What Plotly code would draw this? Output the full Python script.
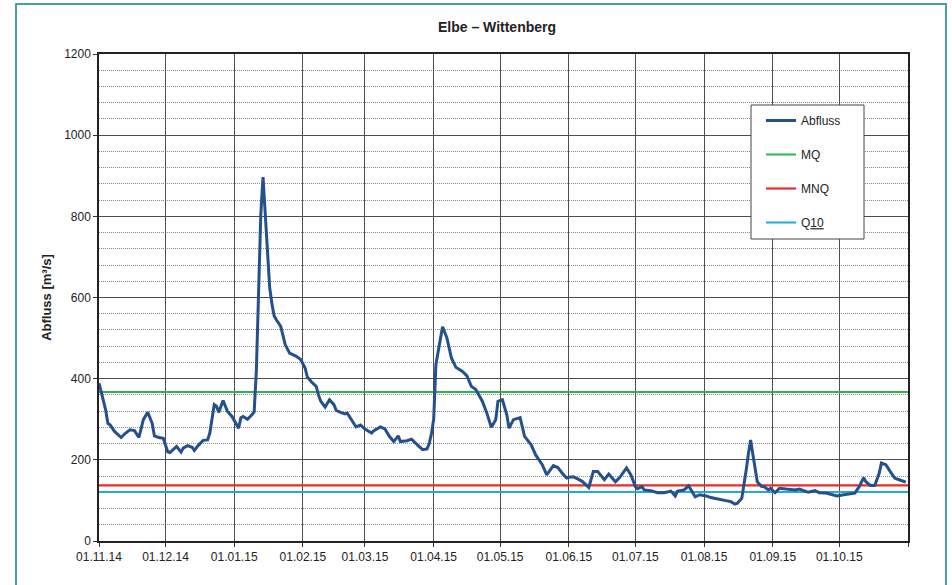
import pandas as pd
import plotly.graph_objects as go

START = "2014-11-01"
END = "2015-11-01"

# day offset from START, discharge in m³/s
days = [0, 1, 3, 4, 5, 7, 10, 12, 14, 16, 18, 20, 22, 24, 25, 27, 29, 31, 32, 35,
        37, 38, 40, 42, 43, 45, 47, 49, 50, 52, 53, 54, 56, 58, 60, 63, 64, 65, 67, 69,
        70, 71, 72, 73, 74, 75, 76, 77, 78, 79, 80, 82, 84, 86, 89, 91, 93, 94, 96, 98,
        99, 100, 102, 104, 106, 107, 109, 111, 112, 114, 116, 118, 120, 123, 124, 127, 129, 131, 133, 135,
        136, 139, 141, 144, 146, 148, 149, 150, 151, 152, 154, 155, 157, 159, 161, 164, 166, 168, 170, 173,
        175, 177, 179, 180, 182, 184, 185, 187, 190, 192, 195, 197, 200, 202, 205, 207, 209, 211, 212, 214,
        216, 218, 221, 223, 225, 228, 230, 233, 235, 238, 240, 242, 243, 245, 246, 249, 252, 255, 258, 260,
        261, 264, 266, 267, 269, 271, 274, 276, 280, 283, 285, 287, 288, 290, 291, 292, 293, 294, 295, 296,
        297, 299, 300, 302, 303, 305, 307, 310, 314, 316, 318, 320, 323, 325, 328, 331, 333, 336, 339, 341,
        343, 345, 346, 348, 350, 352, 353, 355, 357, 359, 361, 364]
abfluss = [389, 365, 323, 290, 286, 270, 255, 266, 274, 272, 255, 299, 317, 290, 259, 255, 253, 220, 218, 233,
           219, 229, 235, 231, 223, 237, 248, 249, 266, 336, 332, 317, 346, 319, 307, 278, 304, 307, 300, 311,
           318, 420, 610, 805, 897, 810, 700, 625, 585, 555, 545, 529, 484, 463, 455, 447, 426, 404, 391, 381,
           360, 345, 330, 348, 336, 322, 317, 313, 315, 297, 281, 286, 276, 266, 272, 281, 276, 258, 245, 259,
           245, 247, 251, 235, 225, 227, 240, 265, 300, 435, 496, 528, 500, 451, 428, 418, 407, 381, 373, 344,
           315, 280, 299, 344, 348, 311, 278, 299, 304, 258, 237, 212, 188, 163, 186, 181, 167, 155, 157, 158,
           153, 147, 132, 171, 171, 151, 165, 146, 157, 180, 163, 134, 129, 134, 126, 124, 119, 119, 123, 111,
           123, 126, 136, 128, 109, 114, 111, 107, 103, 99, 97, 91, 93, 105, 135, 175, 215, 249, 214, 175,
           146, 134, 134, 126, 130, 119, 130, 128, 126, 128, 124, 120, 124, 119, 118, 114, 111, 114, 116, 118,
           134, 156, 146, 137, 137, 167, 192, 188, 171, 155, 151, 145]

MQ = 367
MNQ = 137
Q10 = 121

tick_dates = ["2014-11-01", "2014-12-01", "2015-01-01", "2015-02-01", "2015-03-01", "2015-04-01",
              "2015-05-01", "2015-06-01", "2015-07-01", "2015-08-01", "2015-09-01", "2015-10-01",
              "2015-11-01"]
tick_labels = ["01.11.14", "01.12.14", "01.01.15", "01.02.15", "01.03.15", "01.04.15",
               "01.05.15", "01.06.15", "01.07.15", "01.08.15", "01.09.15", "01.10.15", ""]

dates = pd.Timestamp(START) + pd.to_timedelta(days, unit="D")

FONT = "Liberation Sans, Arial, sans-serif"
fig = go.Figure()
fig.add_trace(go.Scatter(x=[START, END], y=[MQ, MQ], mode="lines", name="MQ",
                         line=dict(color="#2fb34f", width=2), legendgroup="b", legendrank=2))
fig.add_trace(go.Scatter(x=[START, END], y=[MNQ, MNQ], mode="lines", name="MNQ",
                         line=dict(color="#ee2a2a", width=2.2), legendgroup="c", legendrank=3))
fig.add_trace(go.Scatter(x=[START, END], y=[Q10, Q10], mode="lines", name="Q<u>10</u>",
                         line=dict(color="#23a9e1", width=2), legendgroup="d", legendrank=4))
fig.add_trace(go.Scatter(x=dates, y=abfluss, mode="lines", name="Abfluss",
                         line=dict(color="#24508c", width=3), legendgroup="a", legendrank=1))

L, R, T, B = 99, 44, 54, 44
W, H = 952, 585
pw, ph = W - L - R, H - T - B

def px(xp):
    return (xp - L) / pw

def py(yp):
    return (H - B - yp) / ph

shapes = [
    # outer teal frame
    dict(type="rect", xref="paper", yref="paper", x0=px(16), x1=px(946), y0=py(600), y1=py(4),
         line=dict(color="#4b9ea2", width=2), fillcolor="rgba(0,0,0,0)", layer="above"),
    # legend box
    dict(type="rect", xref="paper", yref="paper", x0=px(751), x1=px(864), y0=py(239), y1=py(105),
         line=dict(color="#444", width=1), fillcolor="white", layer="above"),
]

fig.update_layout(
    width=W, height=H,
    margin=dict(l=L, r=R, t=T, b=B),
    paper_bgcolor="white", plot_bgcolor="white",
    font=dict(family=FONT, size=12, color="#222"),
    title=dict(text="<b>Elbe – Wittenberg</b>", x=(497 / W), xanchor="center", y=1 - 27 / H,
               yanchor="middle", font=dict(family=FONT, size=14, color="#222")),
    shapes=shapes,
    showlegend=True,
    legend=dict(x=px(761), y=py(106), xanchor="left", yanchor="top", bgcolor="rgba(0,0,0,0)",
                borderwidth=0, tracegroupgap=15, font=dict(family=FONT, size=12, color="#222"),
                itemwidth=30, traceorder="grouped"),
    xaxis=dict(type="date", range=[START, END], tickmode="array", tickvals=tick_dates,
               ticktext=tick_labels, showgrid=True, gridcolor="#4d4d4d", gridwidth=1.2,
               ticks="outside", ticklen=4, tickcolor="#333", showline=True, linecolor="#222",
               linewidth=1.5, mirror=True, zeroline=False, tickfont=dict(size=12)),
    yaxis=dict(range=[0, 1200], dtick=200, tick0=0, showgrid=True, gridcolor="#4d4d4d",
               gridwidth=1.2, ticks="outside", ticklen=4, tickcolor="#333", showline=True,
               linecolor="#222", linewidth=1.5, mirror=True, zeroline=False,
               tickfont=dict(size=12),
               minor=dict(dtick=40, tick0=0, showgrid=True, gridcolor="#8a8a8a",
                          griddash="1px,1px", gridwidth=1),
               title=dict(text="<b>Abfluss [m³/s]</b>", font=dict(size=13), standoff=10)),
)

fig.write_html("out.html", config={"displayModeBar": False},
               post_script="document.body.style.margin='0px';document.body.style.padding='0px';")
